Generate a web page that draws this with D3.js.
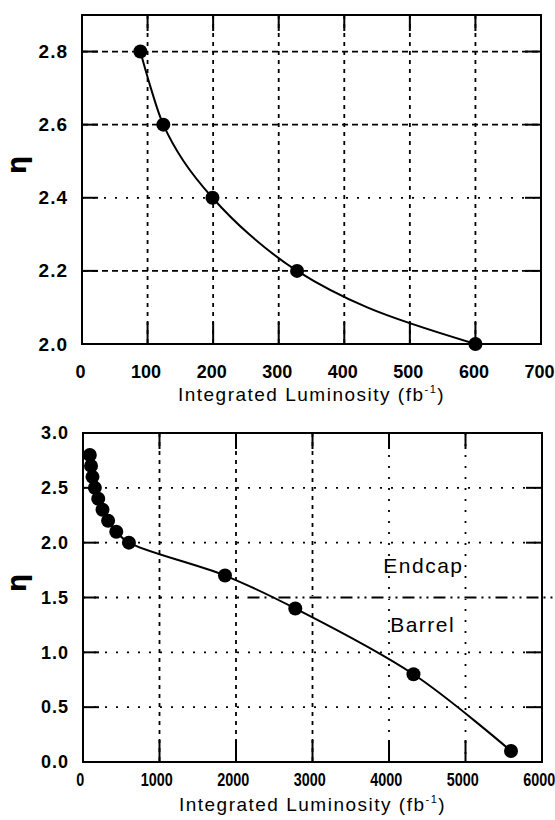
<!DOCTYPE html>
<html><head><meta charset="utf-8">
<script src="https://cdn.jsdelivr.net/npm/d3@7"></script>
<style>body{margin:0;background:#fff} svg{display:block}</style>
</head><body>
<script>
// ---- data ----
const endcapLumi = [89, 105, 124, 155, 199, 255, 328, 435, 600];
const endcapEta  = [2.8, 2.7, 2.6, 2.5, 2.4, 2.3, 2.2, 2.1, 2.0];
const topMarkerEta = [2.8, 2.6, 2.4, 2.2, 2.0];
const barrelLumi = [1856, 2775, 4320, 5595];
const barrelEta  = [1.7, 1.4, 0.8, 0.1];
const topXTicks = [0, 100, 200, 300, 400, 500, 600, 700];
const topYTicks = [2.0, 2.2, 2.4, 2.6, 2.8];
const botXTicks = [0, 1000, 2000, 3000, 4000, 5000, 6000];
const botYTicks = [0.0, 0.5, 1.0, 1.5, 2.0, 2.5, 3.0];
const regionLabels = ["Endcap", "Barrel"];
const regionLabelLumi = [4450, 4440];
const regionLabelEta = [1.72, 1.185];
const dividerEta = 1.5;
const dividerLumi = [2150, 6180];
const xTitle = "Integrated Luminosity (fb";
const xTitleSup = "-1";
const yTitle = "η";

const topPts = endcapLumi.map((l,i)=>({l, e:endcapEta[i]}));
const topMarkers = topPts.filter(p => topMarkerEta.includes(p.e));
const allPts = topPts.concat(barrelLumi.map((l,i)=>({l, e:barrelEta[i]})));

const svg = d3.select('body').append('svg').attr('width',555).attr('height',820);
const FONT = '"Liberation Sans", Arial, sans-serif';
const DASH = {vdash:'4,5', hdash:'6,4', dot:'2,9', dashdot:'12,5,2,5,2,5'};

function panel(cfg){
  const g = svg.append('g');
  const x = d3.scaleLinear().domain(cfg.xDomain).range([cfg.x0, cfg.x1]);
  const y = d3.scaleLinear().domain(cfg.yDomain).range([cfg.y1, cfg.y0]);
  const innerX = cfg.xTicks.filter(v => x(v) > cfg.x0+1 && x(v) < cfg.x1-1);
  const innerY = cfg.yTicks.filter(v => y(v) > cfg.y0+1 && y(v) < cfg.y1-1);
  // grid
  g.selectAll('.vg').data(innerX).join('line')
    .attr('x1', d=>x(d)).attr('x2', d=>x(d)).attr('y1', cfg.y0).attr('y2', cfg.y1)
    .attr('stroke','#000').attr('stroke-width',1.8).attr('stroke-dasharray', d=>DASH[cfg.vStyle(d)]);
  g.selectAll('.hg').data(innerY).join('line')
    .attr('y1', d=>y(d)).attr('y2', d=>y(d)).attr('x1', cfg.x0).attr('x2', cfg.x1)
    .attr('stroke','#000').attr('stroke-width',1.8).attr('stroke-dasharray', d=>DASH[cfg.hStyle(d)]);
  // inner ticks
  const tk = 16, tkb = 22;
  innerX.forEach(v=>{
    g.append('line').attr('x1',x(v)).attr('x2',x(v)).attr('y1',cfg.y1).attr('y2',cfg.y1-tkb).attr('stroke','#000').attr('stroke-width',2);
    g.append('line').attr('x1',x(v)).attr('x2',x(v)).attr('y1',cfg.y0).attr('y2',cfg.y0+tk).attr('stroke','#000').attr('stroke-width',2);
  });
  innerY.forEach(v=>{
    g.append('line').attr('y1',y(v)).attr('y2',y(v)).attr('x1',cfg.x0).attr('x2',cfg.x0+tk).attr('stroke','#000').attr('stroke-width',2);
    g.append('line').attr('y1',y(v)).attr('y2',y(v)).attr('x1',cfg.x1).attr('x2',cfg.x1-tk).attr('stroke','#000').attr('stroke-width',2);
  });
  if (cfg.extra) cfg.extra(g, x, y);
  // frame
  g.append('rect').attr('x',cfg.x0).attr('y',cfg.y0).attr('width',cfg.x1-cfg.x0).attr('height',cfg.y1-cfg.y0)
    .attr('fill','none').attr('stroke','#000').attr('stroke-width',2);
  // curve
  const line = d3.line().x(d=>x(d.l)).y(d=>y(d.e)).curve(d3.curveCatmullRom.alpha(0.5));
  g.append('path').datum(cfg.curve).attr('d', line).attr('fill','none').attr('stroke','#000').attr('stroke-width',2);
  g.selectAll('.pt').data(cfg.markers).join('circle')
    .attr('cx', d=>x(d.l)).attr('cy', d=>y(d.e)).attr('r', 7).attr('fill','#000');
  // axes labels
  const ax = g.append('g').attr('transform',`translate(0,${cfg.y1})`)
    .call(d3.axisBottom(x).tickValues(cfg.xTicks).tickSize(0).tickPadding(cfg.xPad).tickFormat(d3.format('d')));
  const ay = g.append('g').attr('transform',`translate(${cfg.x0},0)`)
    .call(d3.axisLeft(y).tickValues(cfg.yTicks).tickSize(0).tickPadding(14).tickFormat(d3.format('.1f')));
  [ax, ay].forEach(a=>{
    a.select('.domain').remove();
    a.selectAll('text').attr('font-family',FONT).attr('font-weight','bold').attr('fill','#000');
  });
  ax.selectAll('text').attr('font-size',cfg.xFont).attr('dx',cfg.xDx).attr('transform',`scale(${cfg.xScale},1)`);
  ay.selectAll('text').attr('font-size',cfg.yFont).attr('letter-spacing','1px');
  // titles
  const t = g.append('text').attr('x',(cfg.x0+cfg.x1)/2).attr('y',cfg.titleY)
    .attr('text-anchor','middle').attr('font-family',FONT).attr('font-size',19)
    .attr('letter-spacing','1.5px').attr('fill','#000');
  t.append('tspan').text(xTitle);
  t.append('tspan').attr('font-size',11).attr('dy',-8).text(xTitleSup);
  t.append('tspan').attr('dy',8).text(')');
  g.append('text').attr('transform',`translate(26,${cfg.etaY}) rotate(-90)`)
    .attr('text-anchor','middle').attr('font-family','"DejaVu Sans", sans-serif').attr('font-size',26)
    .attr('font-weight','bold').attr('fill','#000').text(yTitle);
}

panel({
  xDomain:[0,700], yDomain:[2.0,2.9], x0:82, x1:541, y0:15, y1:344,
  xTicks: topXTicks, yTicks: topYTicks, xPad: 21, xFont: 18, yFont: 19, xDx: -2, xScale: 1,
  vStyle: ()=>'vdash', hStyle: v => Math.abs(v-2.4)<1e-6 ? 'dot' : 'hdash',
  curve: topPts, markers: topMarkers, titleY: 401, etaY: 165
});

panel({
  xDomain:[0,6000], yDomain:[0,3], x0:83, x1:542, y0:433, y1:762,
  xTicks: botXTicks, yTicks: botYTicks, xPad: 11, xFont: 18, yFont: 18, xDx: -4, xScale: 0.8,
  vStyle: v => v>=4000 ? 'dot' : 'vdash', hStyle: ()=>'dot',
  curve: allPts, markers: allPts, titleY: 811, etaY: 583,
  extra: (g, x, y) => {
    g.append('line').attr('x1',x(dividerLumi[0])).attr('x2',x(dividerLumi[1]))
      .attr('y1',y(dividerEta)).attr('y2',y(dividerEta)).attr('stroke','#fff').attr('stroke-width',3);
    g.append('line').attr('x1',x(dividerLumi[0])).attr('x2',x(dividerLumi[1]))
      .attr('y1',y(dividerEta)).attr('y2',y(dividerEta)).attr('stroke','#000').attr('stroke-width',2)
      .attr('stroke-dasharray',DASH.dashdot);
    g.selectAll('.rl').data(regionLabels).join('text')
      .attr('x',(d,i)=>x(regionLabelLumi[i])).attr('y',(d,i)=>y(regionLabelEta[i]))
      .attr('text-anchor','middle').attr('font-family',FONT).attr('font-size',21)
      .attr('letter-spacing','1.5px').attr('fill','#000').text(d=>d);
  }
});
</script>
</body></html>
